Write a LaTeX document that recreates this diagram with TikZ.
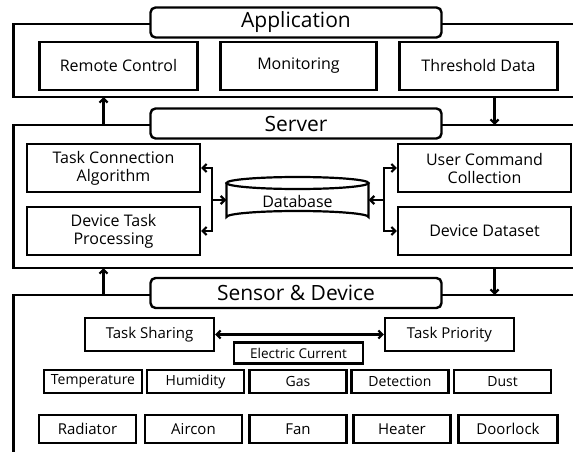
\documentclass[tikz,border=0pt]{standalone}
\usepackage{fontspec}
\setmainfont{Open Sans}
\usetikzlibrary{arrows.meta}
\tikzset{
  box/.style={draw, line width=2.2pt, inner sep=1pt, align=center, font=\fontsize{16}{18}\selectfont},
  sbox/.style={draw, line width=2.2pt, inner sep=1pt, align=center, font=\fontsize{14}{16}\selectfont},
  title/.style={draw, line width=2.4pt, rounded corners=5pt, fill=white, inner sep=0pt, minimum width=291, minimum height=30, font=\fontsize{21}{23}\selectfont},
  frame/.style={line width=2.2pt},
  arr/.style={line width=2.2pt, -{Straight Barb[length=4pt,width=8pt]}},
  darr/.style={line width=2.2pt, {Straight Barb[length=4pt,width=8pt]}-{Straight Barb[length=4pt,width=8pt]}}
}
\begin{document}
\begin{tikzpicture}[x=1pt,y=-1pt]
\useasboundingbox (0,0) rectangle (573,452);
\begin{scope}
\clip (0,0) rectangle (573,452);
% frames
\draw[frame] (590,24) -- (13.5,24) -- (13.5,97) -- (590,97);
\draw[frame] (590,125) -- (13.5,125) -- (13.5,268) -- (590,268);
\draw[frame] (590,295) -- (13.5,295) -- (13.5,470);
\coordinate (a1) at (103.5,97);
\coordinate (s1) at (103.5,125);
\coordinate (a2) at (494.5,97);
\coordinate (s2) at (494.5,125);
\coordinate (s3) at (103.5,268);
\coordinate (d3) at (103.5,295);
\coordinate (s4) at (494.5,268);
\coordinate (d4) at (494.5,295);
\draw[arr] (s1) -- (a1);
\draw[arr] (a2) -- (s2);
\draw[arr] (d3) -- (s3);
\draw[arr] (s4) -- (d4);

% titles
\node[title] (app) at (296,22.5) {Application};
\node[title] (srv) at (296,123.5) {Server};
\node[title] (sd) at (296,293) {Sensor \& Device};

% application boxes
\node[box, minimum width=158, minimum height=48] (rc) at (118.5,66) {Remote Control};
\node[box, minimum width=156, minimum height=48] (mon) at (298.5,66) {Monitoring};
\node[box, minimum width=158, minimum height=48] (thr) at (478.5,66) {Threshold Data};

% server boxes
\node[box, minimum width=173, minimum height=48] (tca) at (113.5,168) {Task Connection\\Algorithm};
\node[box, minimum width=173, minimum height=48] (dtp) at (113.5,231) {Device Task\\Processing};
\node[box, minimum width=173, minimum height=48] (ucc) at (484.5,168) {User Command\\Collection};
\node[box, minimum width=173, minimum height=48] (dd) at (484.5,231) {Device Dataset};

% database cylinder
\draw[line width=2.2pt, fill=white] (226.5,183) -- (226.5,217) arc[start angle=180, end angle=360, x radius=71, y radius=6] -- (368.5,183);
\draw[line width=2.2pt] (297.5,183) ellipse[x radius=71, y radius=6];
\node[minimum width=142, minimum height=46, inner sep=0pt, font=\fontsize{16}{18}\selectfont] (db) at (297.5,201) {Database};

\coordinate (lb) at (212,200);
\coordinate (rb) at (384,200);
\draw[darr] (tca.east |- 0,168) -- (212,168) -- (212,231) -- (dtp.east |- 0,231);
\draw[arr] (lb) -- (db.west |- lb);
\draw[darr] (ucc.west |- 0,168) -- (384,168) -- (384,231) -- (dd.west |- 0,231);
\draw[arr] (rb) -- (db.east |- rb);

% sensor & device
\node[box, minimum width=129, minimum height=33, font=\fontsize{15}{17}\selectfont] (ts) at (149.5,334.5) {Task Sharing};
\node[box, minimum width=129, minimum height=33, font=\fontsize{15}{17}\selectfont] (tp) at (449.5,334.5) {Task Priority};
\draw[darr] (ts.east) -- (tp.west);
\node[sbox, minimum width=129, minimum height=21, font=\fontsize{13.5}{15}\selectfont] (ec) at (298.5,353) {Electric Current};

\node[sbox, minimum width=98, minimum height=23] (tem) at (93,381.5) {Temperature};
\node[sbox, minimum width=97, minimum height=23] (hum) at (195.5,381.5) {Humidity};
\node[sbox, minimum width=97, minimum height=23] (gas) at (298,381.5) {Gas};
\node[sbox, minimum width=97, minimum height=23] (det) at (400,381.5) {Detection};
\node[sbox, minimum width=97, minimum height=23] (dus) at (502.5,381.5) {Dust};

\node[box, minimum width=97, minimum height=28, font=\fontsize{15}{17}\selectfont] (rad) at (87.5,429) {Radiator};
\node[box, minimum width=97, minimum height=28, font=\fontsize{15}{17}\selectfont] (air) at (193.5,429) {Aircon};
\node[box, minimum width=97, minimum height=28, font=\fontsize{15}{17}\selectfont] (fan) at (298,429) {Fan};
\node[box, minimum width=97, minimum height=28, font=\fontsize{15}{17}\selectfont] (hea) at (402,429) {Heater};
\node[box, minimum width=99, minimum height=28, font=\fontsize{15}{17}\selectfont] (doo) at (508,429) {Doorlock};
\end{scope}
\end{tikzpicture}
\end{document}
